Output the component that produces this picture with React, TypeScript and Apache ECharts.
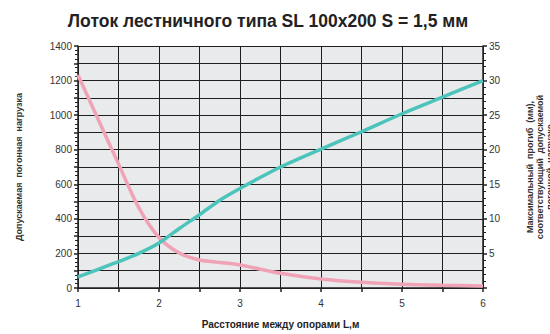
import React, { useEffect, useRef } from "react";
import * as echarts from "echarts";

const spans = [1, 1.25, 1.5, 1.75, 2, 2.25, 2.5, 2.75, 3, 3.5, 4, 4.5, 5, 5.5, 6];
const loadValues = [1232, 975, 718, 465, 292, 202, 162, 148, 133, 85, 52, 33, 22, 16, 12];
const deflectionValues = [1.6, 2.7, 3.8, 5.0, 6.5, 8.6, 10.6, 12.7, 14.4, 17.5, 20.1, 22.6, 25.2, 27.6, 30.0];

const title = "Лоток лестничного типа SL 100x200 S = 1,5 мм";
const xName = "Расстояние между опорами L,м";
const leftName = "Допускаемая  погонная  нагрузка";
const rightName = "Максимальный  прогиб  (мм),\nсоответствующий  допускаемой\nпогонной  нагрузке";

export default function App() {
  const ref = useRef<HTMLDivElement>(null);
  useEffect(() => {
    if (!ref.current) return;
    const chart = echarts.init(ref.current, null, { renderer: "svg" });
    const font = "Arial, 'Liberation Sans', sans-serif";
    const grid = "#1e1e1e";
    chart.setOption({
      animation: false,
      backgroundColor: "#fff",
      textStyle: { fontFamily: font },
      title: {
        text: title,
        left: 263,
        textAlign: "center",
        top: 7,
        textStyle: { fontSize: 17.5, fontWeight: "bold", color: "#222", fontFamily: font },
      },
      grid: {
        left: 78,
        right: 67,
        top: 46,
        bottom: 46,
        show: true,
        backgroundColor: "#e9eaec",
        borderWidth: 0,
        outerBoundsMode: "none",
        containLabel: false,
      },
      xAxis: {
        type: "value",
        min: 1,
        max: 6,
        interval: 0.5,
        name: xName,
        nameLocation: "middle",
        nameGap: 31,
        nameTextStyle: { fontSize: 10, fontWeight: "bold", color: "#222" },
        axisLine: { lineStyle: { color: "#222", width: 1.5 } },
        axisTick: { show: true, length: 4, inside: false, lineStyle: { color: "#222", width: 1.5 } },
        axisLabel: {
          fontSize: 10,
          color: "#333",
          margin: 10,
          formatter: (v: number) => (Number.isInteger(v) ? String(v) : ""),
        },
        splitLine: { show: true, lineStyle: { color: grid, width: 1 } },
      },
      yAxis: [
        {
          type: "value",
          min: 0,
          max: 1400,
          interval: 100,
          position: "left",
          name: leftName,
          nameLocation: "middle",
          nameRotate: 90,
          nameGap: 55,
          nameTextStyle: { fontSize: 9, fontWeight: "bold", color: "#333" },
          axisLine: { show: true, lineStyle: { color: "#222", width: 1.5 } },
          axisTick: { show: true, length: 4, lineStyle: { color: "#222", width: 1.5 } },
          minorTick: { show: true, splitNumber: 4, length: 3, lineStyle: { color: "#222", width: 1 } },
          axisLabel: {
            fontSize: 10,
            color: "#333",
            margin: 6,
            formatter: (v: number) => (v % 200 === 0 ? String(v) : ""),
          },
          splitLine: { show: true, lineStyle: { color: grid, width: 1 } },
        },
        {
          type: "value",
          min: 0,
          max: 35,
          interval: 5,
          position: "right",
          name: rightName,
          nameLocation: "middle",
          nameRotate: 90,
          nameGap: 42,
          nameTextStyle: { fontSize: 9, fontWeight: "bold", color: "#333", lineHeight: 10 },
          axisLine: { show: true, lineStyle: { color: "#222", width: 1.5 } },
          axisTick: { show: true, length: 4, lineStyle: { color: "#222", width: 1.5 } },
          minorTick: { show: true, splitNumber: 5, length: 3, lineStyle: { color: "#222", width: 1 } },
          axisLabel: {
            fontSize: 10,
            color: "#333",
            margin: 6,
            formatter: (v: number) => (v === 0 ? "" : String(v)),
          },
          splitLine: { show: false },
        },
      ],
      series: [
        {
          type: "line",
          yAxisIndex: 0,
          data: spans.map((x, i) => [x, loadValues[i]]),
          smooth: 0.3,
          showSymbol: false,
          lineStyle: { color: "#f0a3b6", width: 3.5 },
          z: 3,
        },
        {
          type: "line",
          yAxisIndex: 1,
          data: spans.map((x, i) => [x, deflectionValues[i]]),
          smooth: 0.3,
          showSymbol: false,
          lineStyle: { color: "#4cc3bb", width: 3.5 },
          z: 4,
        },
      ],
    });
    return () => chart.dispose();
  }, []);
  return <div ref={ref} style={{ width: 550, height: 334, position: "fixed", left: 0, top: 0 }} />;
}
